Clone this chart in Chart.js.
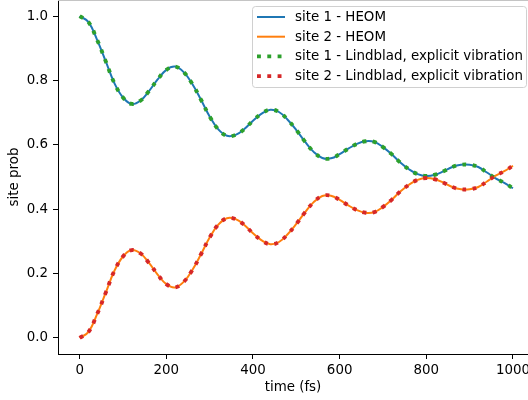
<!DOCTYPE html>
<html>
<head>
<meta charset="utf-8">
<title>site populations</title>
<script src="https://cdn.jsdelivr.net/npm/chart.js"></script>
<style>
  html, body { margin:0; padding:0; overflow:hidden; background:#fff; }
  canvas { display:block; }
</style>
</head>
<body>
<canvas id="popChart" width="528" height="400"></canvas>
<script>
// time grid (fs)
const times = [0,20,40,60,80,100,120,140,160,180,200,220,240,260,280,300,320,340,360,380,400,
  420,440,460,480,500,520,540,560,580,600,620,640,660,680,700,720,740,760,780,800,
  820,840,860,880,900,920,940,960,980,1000];

const site1Heom = [1.000,0.982,0.927,0.860,0.792,0.747,0.727,0.737,0.767,0.803,0.833,
  0.843,0.826,0.789,0.740,0.688,0.648,0.628,0.631,0.649,0.675,
  0.697,0.709,0.702,0.678,0.646,0.610,0.578,0.559,0.558,0.571,
  0.588,0.603,0.611,0.609,0.593,0.571,0.545,0.524,0.509,0.503,
  0.507,0.518,0.531,0.538,0.538,0.531,0.514,0.496,0.482,0.465];

const site2Heom = [0.000,0.018,0.073,0.140,0.208,0.253,0.273,0.263,0.233,0.197,0.167,
  0.157,0.174,0.211,0.260,0.312,0.352,0.372,0.369,0.351,0.325,
  0.303,0.291,0.298,0.322,0.354,0.390,0.422,0.441,0.442,0.429,
  0.412,0.397,0.389,0.391,0.407,0.429,0.455,0.476,0.491,0.497,
  0.493,0.482,0.469,0.462,0.462,0.469,0.486,0.504,0.518,0.535];

const site1Lindblad = [1.000,0.982,0.927,0.860,0.792,0.747,0.727,0.737,0.767,0.803,0.833,
  0.843,0.826,0.789,0.740,0.688,0.648,0.628,0.631,0.649,0.675,
  0.697,0.709,0.702,0.678,0.646,0.610,0.578,0.559,0.558,0.571,
  0.588,0.603,0.611,0.609,0.593,0.571,0.545,0.524,0.509,0.503,
  0.507,0.518,0.531,0.538,0.538,0.531,0.514,0.496,0.482,0.465];

const site2Lindblad = [0.000,0.018,0.073,0.140,0.208,0.253,0.273,0.263,0.233,0.197,0.167,
  0.157,0.174,0.211,0.260,0.312,0.352,0.372,0.369,0.351,0.325,
  0.303,0.291,0.298,0.322,0.354,0.390,0.422,0.441,0.442,0.429,
  0.412,0.397,0.389,0.391,0.407,0.429,0.455,0.476,0.491,0.497,
  0.493,0.482,0.469,0.462,0.462,0.469,0.486,0.504,0.518,0.535];

const xTicks = [0,200,400,600,800,1000];
const yTicks = [0.0,0.2,0.4,0.6,0.8,1.0];

const FONT = { family: 'DejaVu Sans', size: 13.4 };
const pts = arr => arr.map((v,i)=>({ x: times[i], y: v }));

// framed legend in the upper right
const boxLegend = {
  id: 'boxLegend',
  afterDraw(chart) {
    const ctx = chart.ctx;
    const x0 = 252.5, y0 = 6.5, w = 274, h = 81, r = 3;
    ctx.save();
    ctx.beginPath();
    ctx.roundRect(x0, y0, w, h, r);
    ctx.fillStyle = 'rgba(255,255,255,0.8)';
    ctx.fill();
    ctx.strokeStyle = '#d0d0d0';
    ctx.lineWidth = 1;
    ctx.stroke();
    ctx.font = FONT.size + 'px "' + FONT.family + '"';
    ctx.textBaseline = 'middle';
    ctx.fillStyle = '#000';
    chart.data.datasets.forEach((ds, i) => {
      const yy = 17 + i * 19.7;
      ctx.beginPath();
      ctx.strokeStyle = ds.borderColor;
      ctx.lineWidth = ds.borderWidth;
      ctx.setLineDash(ds.borderDash || []);
      ctx.lineCap = 'butt';
      ctx.moveTo(257, yy);
      ctx.lineTo(285, yy);
      ctx.stroke();
      ctx.setLineDash([]);
      ctx.fillText(ds.label, 295, yy + 0.5);
    });
    ctx.restore();
  }
};

// faint top spine, mostly cut by the figure edge
const topSpine = {
  id: 'topSpine',
  afterDraw(chart) {
    const { ctx, chartArea } = chart;
    ctx.save();
    ctx.strokeStyle = '#c4c4c4';
    ctx.lineWidth = 1;
    ctx.beginPath();
    ctx.moveTo(chartArea.left, 0.5);
    ctx.lineTo(chartArea.right, 0.5);
    ctx.stroke();
    ctx.restore();
  }
};

const dotted = { borderWidth: 3.9, borderDash: [3.9, 6.4], borderCapStyle: 'butt' };

new Chart(document.getElementById('popChart'), {
  type: 'line',
  data: {
    datasets: [
      { label: 'site 1 - HEOM', data: pts(site1Heom), borderColor: '#1f77b4', borderWidth: 2, order: 4 },
      { label: 'site 2 - HEOM', data: pts(site2Heom), borderColor: '#ff7f0e', borderWidth: 2, order: 3 },
      { label: 'site 1 - Lindblad, explicit vibration', data: pts(site1Lindblad), borderColor: '#2ca02c', order: 2, ...dotted },
      { label: 'site 2 - Lindblad, explicit vibration', data: pts(site2Lindblad), borderColor: '#d62728', order: 1, ...dotted }
    ]
  },
  options: {
    responsive: false,
    animation: false,
    layout: { padding: 0 },
    elements: { point: { radius: 0 }, line: { tension: 0.4, fill: false } },
    plugins: { legend: { display: false }, tooltip: { enabled: false } },
    scales: {
      x: {
        // axis runs past the right edge of the figure
        type: 'linear', min: -50, max: 1034.7,
        afterBuildTicks: s => { s.ticks = xTicks.map(v => ({ value: v })); },
        afterFit: s => { s.height = 46; s.paddingLeft = 0; s.paddingRight = 0; },
        ticks: { color: '#000', font: FONT, padding: 3, maxRotation: 0, callback: v => String(v) },
        grid: { drawOnChartArea: false, tickLength: 5, color: '#000' },
        border: { color: '#000', width: 1 },
        title: { display: true, text: 'time (fs)', color: '#000', font: FONT, padding: { top: 2, bottom: 4 } }
      },
      y: {
        type: 'linear', min: -0.05, max: 1.05,
        afterBuildTicks: s => { s.ticks = yTicks.map(v => ({ value: v })); },
        afterFit: s => { s.width = 58; s.paddingTop = 0; s.paddingBottom = 0; },
        ticks: { color: '#000', font: FONT, padding: 5, callback: v => v.toFixed(1) },
        grid: { drawOnChartArea: false, tickLength: 5, color: '#000' },
        border: { color: '#000', width: 1 },
        title: { display: true, text: 'site prob', color: '#000', font: FONT, padding: { top: 6, bottom: 0 } }
      }
    }
  },
  plugins: [boxLegend, topSpine]
});
</script>
</body>
</html>
